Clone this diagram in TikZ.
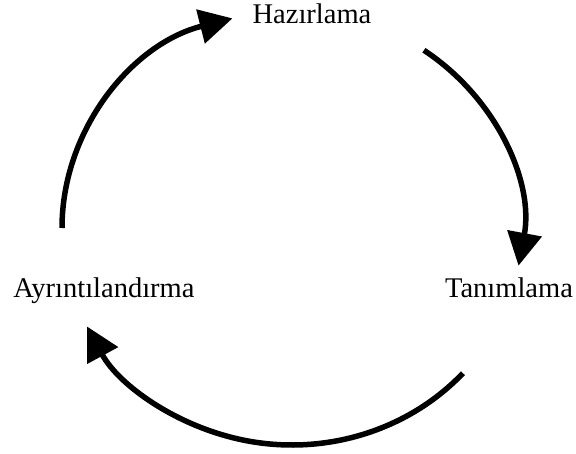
\documentclass[tikz,border=0pt]{standalone}
\usepackage{fontspec}
\setmainfont{Liberation Serif}
\usetikzlibrary{arrows.meta, calc}

\begin{document}
\begin{tikzpicture}[x=1pt, y=1pt,
          cyc/.style={draw=black, line width=5.5pt,
                      -{Triangle[length=33pt, width=34pt]}},
          lbl/.style={font=\fontsize{28.5}{34}\selectfont,
                      inner sep=0pt, anchor=base}
        ]
        \useasboundingbox (0,0) rectangle (576,453);

        % Phases
        \node[lbl] (haz) at (312,429) {Hazırlama};
        \node[lbl] (tan) at (509,155) {Tanımlama};
        \node[lbl] (ayr) at (104,155) {Ayrıntılandırma};

        % Cycle arrows
        \coordinate (c) at (292,225);
        \draw[cyc] ($(c)+(180:230 and 217)$)
              arc[start angle=180, end angle=105, x radius=230, y radius=217];
        \draw[cyc] ($(c)+(55:230 and 217)$)
              arc[start angle=55, end angle=-10, x radius=230, y radius=217];
        \draw[cyc] ($(c)+(-42:230 and 217)$)
              arc[start angle=-42, end angle=-153, x radius=230, y radius=217];
      \end{tikzpicture}
\end{document}
